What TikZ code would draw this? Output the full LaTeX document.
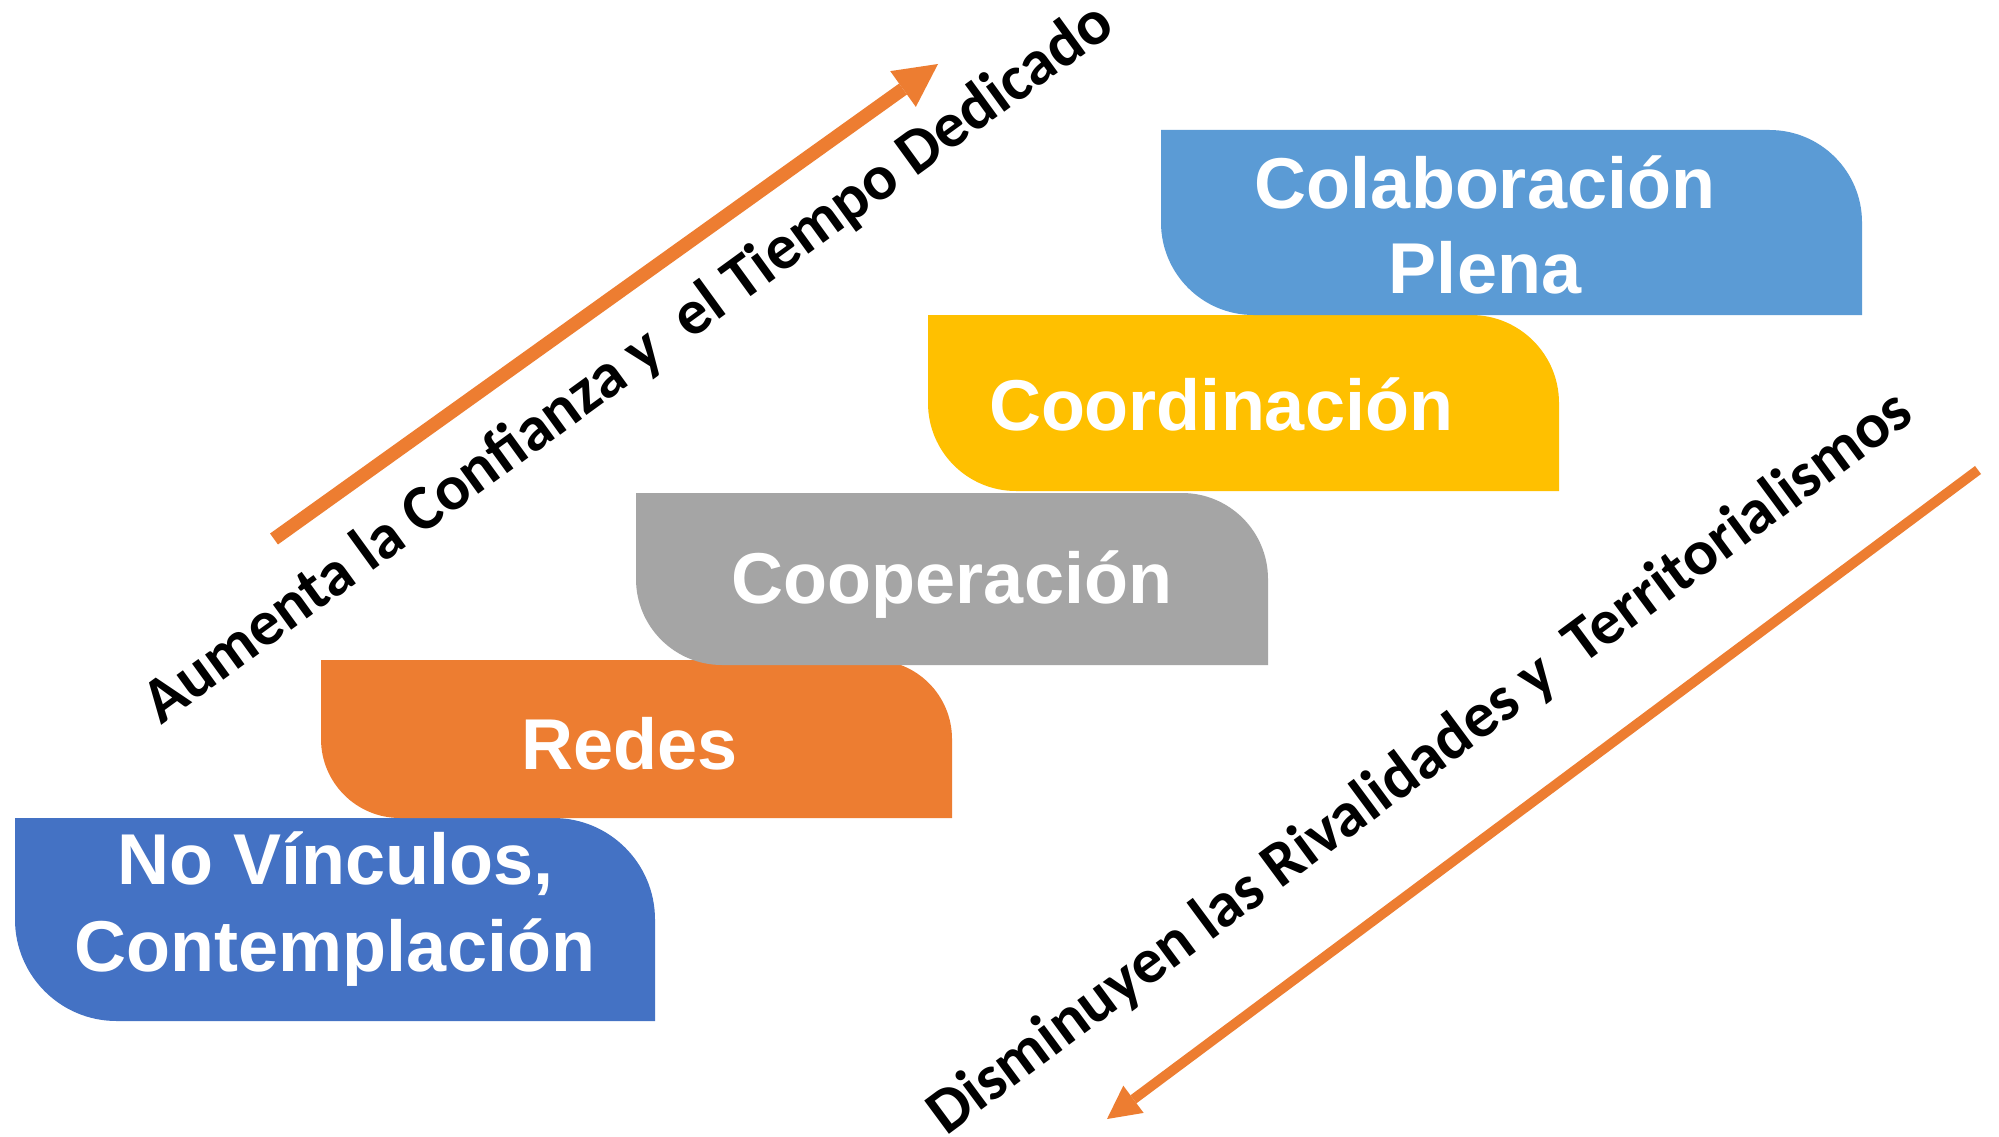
\documentclass[tikz,border=0pt]{standalone}
\usepackage{fontspec}
\usetikzlibrary{arrows.meta}
\newfontfamily\boxfont{Liberation Sans}
\newfontfamily\labfont{Carlito}
\definecolor{cBlue}{HTML}{4472C4}
\definecolor{cOrange}{HTML}{ED7D31}
\definecolor{cGray}{HTML}{A5A5A5}
\definecolor{cYellow}{HTML}{FFC000}
\definecolor{cLight}{HTML}{5B9BD5}
% round-diagonal-corner box: x1 y1 x2 y2 colour (radius = half height)
\newcommand\rdbox[5]{%
  \pgfmathsetmacro\rr{(#4-#2)/2}%
  \pgfmathsetmacro\kk{0.4477*\rr}%
  \fill[#5] (#1,#2) -- ({#3-\rr},#2) .. controls ({#3-\kk},#2) and (#3,{#2+\kk}) .. (#3,{#2+\rr})
    -- (#3,#4) -- ({#1+\rr},#4) .. controls ({#1+\kk},#4) and (#1,{#4-\kk}) .. (#1,{#4-\rr}) -- cycle;}
\begin{document}
\begin{tikzpicture}[x=1pt,y=-1pt,
  boxtext/.style={text=white,inner sep=0pt,anchor=base,font=\boxfont\bfseries\fontsize{72}{86}\selectfont},
  diagtext/.style={text=black,inner sep=0pt,anchor=base,font=\labfont\bfseries\fontsize{64}{77}\selectfont},
  uparrow/.style={draw=cOrange,line width=13.5pt,-{Triangle[length=43pt,width=44pt,line width=0pt]}},
  downarrow/.style={draw=cOrange,line width=10pt,-{Triangle[length=33pt,width=34pt,line width=0pt]}}]
\useasboundingbox (0,0) rectangle (1999,1137);
\fill[white] (0,0) rectangle (1999,1137);
% boxes, lowest first
\rdbox{15}{818}{655}{1021}{cBlue}
\rdbox{321}{660}{952}{818}{cOrange}
\rdbox{636}{493}{1268}{665}{cGray}
\rdbox{928}{315}{1559}{491}{cYellow}
\rdbox{1161}{130}{1862}{315}{cLight}
% box texts
\node[boxtext] (nv1) at (336,884) {No Vínculos,};
\node[boxtext] (nv2) at (335,971) {Contemplación};
\node[boxtext] (red) at (630,769) {Redes};
\node[boxtext] (coop) at (952,603) {Cooperación};
\node[boxtext] (coord) at (1221,430) {Coordinación};
\node[boxtext] (col1) at (1485,208) {Colaboración};
\node[boxtext] (col2) at (1485,293) {Plena};
% arrows
\coordinate (u1) at (274,539);
\coordinate (u2) at (938,64);
\draw[uparrow] (u1) -- (u2);
\coordinate (d1) at (1978,470);
\coordinate (d2) at (1107,1119);
\draw[downarrow] (d1) -- (d2);
% diagonal labels
\node[diagtext,rotate=36] (lup) at (639,378) {Aumenta la Confianza y\ \ el Tiempo Dedicado};
\node[diagtext,rotate=36.5] (ldown) at (1431,778) {Disminuyen las Rivalidades y\ \ Territorialismos};
\end{tikzpicture}
\end{document}
